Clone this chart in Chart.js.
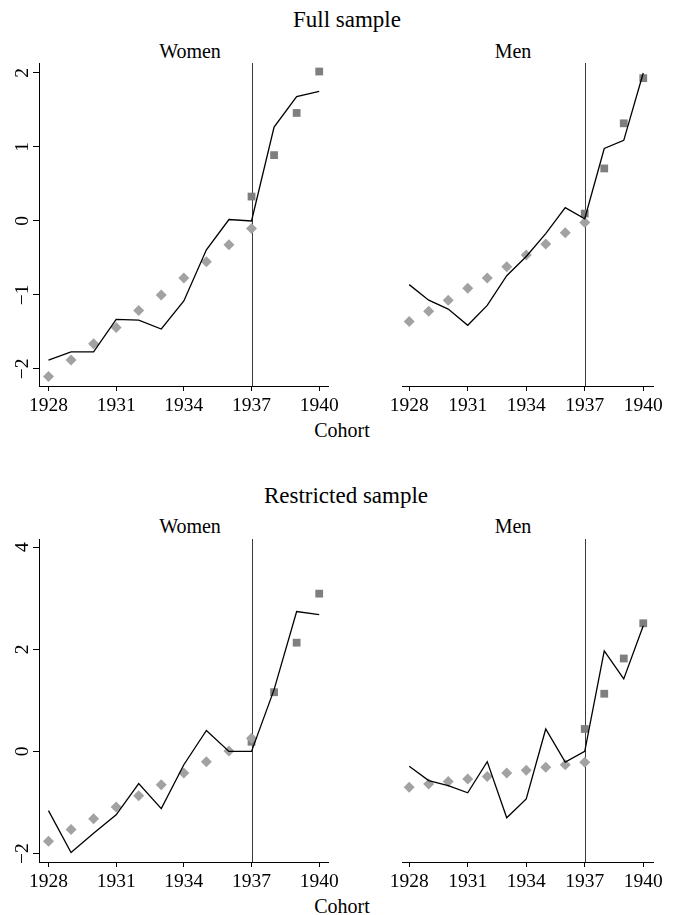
<!DOCTYPE html>
<html>
<head>
<meta charset="utf-8">
<script src="https://cdn.jsdelivr.net/npm/chart.js@4.4.0/dist/chart.umd.min.js"></script>
<style>
  html, body { margin: 0; padding: 0; background: #fff; overflow: hidden; }
  body { width: 673px; height: 915px; position: relative; font-family: "Liberation Serif", "Times New Roman", serif; color: #000; }
  canvas { position: absolute; }
  .lbl { position: absolute; width: 240px; text-align: center; line-height: 1; white-space: nowrap; }
</style>
</head>
<body>
<div class="lbl" style="left:227px; top:8px; font-size:23px;">Full sample</div>
<div class="lbl" style="left:70px; top:41px; font-size:20px;">Women</div>
<div class="lbl" style="left:393px; top:41px; font-size:20px;">Men</div>
<div class="lbl" style="left:222px; top:420px; font-size:20px;">Cohort</div>

<div class="lbl" style="left:226px; top:484px; font-size:23px;">Restricted sample</div>
<div class="lbl" style="left:70px; top:516px; font-size:20px;">Women</div>
<div class="lbl" style="left:393px; top:516px; font-size:20px;">Men</div>
<div class="lbl" style="left:222px; top:896px; font-size:20px;">Cohort</div>

<canvas id="fullWomen" width="353" height="373" style="left:0px; top:43px;"></canvas>
<canvas id="fullMen" width="330" height="373" style="left:338px; top:43px;"></canvas>
<canvas id="restWomen" width="353" height="373" style="left:0px; top:519px;"></canvas>
<canvas id="restMen" width="330" height="373" style="left:338px; top:519px;"></canvas>

<script>
// cohorts and reform cutoff
const cohorts = [1928, 1929, 1930, 1931, 1932, 1933, 1934, 1935, 1936, 1937, 1938, 1939, 1940];
const preCohorts = [1928, 1929, 1930, 1931, 1932, 1933, 1934, 1935, 1936, 1937];
const postCohorts = [1937, 1938, 1939, 1940];
const cutoff = 1937;

// tick labels
const xTicks = [1928, 1931, 1934, 1937, 1940];
const yTicksFull = [-2, -1, 0, 1, 2];
const yTicksRestricted = [-2, 0, 2, 4];

// full sample, women
const fullWomenFit = [-1.88, -1.77, -1.77, -1.33, -1.34, -1.46, -1.08, -0.39, 0.02, 0.0, 1.27, 1.68, 1.75];
const fullWomenPre = [-2.10, -1.88, -1.66, -1.44, -1.21, -1.00, -0.77, -0.55, -0.32, -0.10];
const fullWomenPost = [0.33, 0.89, 1.46, 2.02];

// full sample, men
const fullMenFit = [-0.86, -1.07, -1.19, -1.41, -1.14, -0.74, -0.48, -0.17, 0.18, 0.03, 0.98, 1.09, 2.0];
const fullMenPre = [-1.36, -1.22, -1.07, -0.91, -0.77, -0.62, -0.46, -0.31, -0.16, -0.02];
const fullMenPost = [0.10, 0.71, 1.32, 1.93];

// restricted sample, women
const restWomenFit = [-1.16, -1.98, -1.60, -1.24, -0.63, -1.12, -0.26, 0.41, 0.0, 0.0, 1.21, 2.74, 2.68];
const restWomenPre = [-1.76, -1.53, -1.32, -1.09, -0.87, -0.65, -0.42, -0.20, 0.01, 0.26];
const restWomenPost = [0.19, 1.16, 2.13, 3.09];

// restricted sample, men
const restMenFit = [-0.29, -0.57, -0.67, -0.81, -0.20, -1.30, -0.93, 0.44, -0.21, 0.0, 1.97, 1.42, 2.46];
const restMenPre = [-0.70, -0.64, -0.59, -0.54, -0.49, -0.42, -0.37, -0.31, -0.26, -0.21];
const restMenPost = [0.44, 1.13, 1.82, 2.51];

const FONT = { family: "'Liberation Serif', 'Times New Roman', serif", size: 19.5 };

function pairs(xs, ys) {
  return xs.map((x, i) => ({ x: x, y: ys[i] }));
}

// vertical line at the cutoff cohort
const cutoffLine = {
  id: "cutoffLine",
  beforeDatasetsDraw(chart) {
    const { ctx, chartArea, scales } = chart;
    const x = Math.round(scales.x.getPixelForValue(cutoff)) + 0.5;
    ctx.save();
    ctx.strokeStyle = "#3a3a3a";
    ctx.lineWidth = 1;
    ctx.beginPath();
    ctx.moveTo(x, chartArea.top);
    ctx.lineTo(x, chartArea.bottom);
    ctx.stroke();
    ctx.restore();
  }
};

function makePanel(id, fit, pre, post, yTicks, yMin, yMax, xMin, xMax, showY) {
  const ctx = document.getElementById(id).getContext("2d");
  return new Chart(ctx, {
    type: "scatter",
    data: {
      datasets: [
        {
          data: pairs(cohorts, fit),
          showLine: true,
          borderColor: "#000",
          borderWidth: 1.3,
          pointRadius: 0,
          tension: 0,
          clip: false,
          order: 0
        },
        {
          data: pairs(preCohorts, pre),
          pointStyle: "rectRot",
          pointRadius: 5.5,
          pointBackgroundColor: "#a2a2a2",
          pointBorderWidth: 0,
          clip: false,
          order: 1
        },
        {
          data: pairs(postCohorts, post),
          pointStyle: "rect",
          pointRadius: 5.5,
          pointBackgroundColor: "#7f7f7f",
          pointBorderWidth: 0,
          clip: false,
          order: 1
        }
      ]
    },
    options: {
      responsive: false,
      animation: false,
      events: [],
      layout: { padding: showY ? { top: 20, left: 0, right: 25, bottom: 0 } : { top: 20, left: 25, right: 15, bottom: 0 } },
      plugins: { legend: { display: false }, tooltip: { enabled: false } },
      scales: {
        x: {
          type: "linear",
          min: xMin,
          max: xMax,
          afterBuildTicks: (scale) => { scale.ticks = xTicks.map((v) => ({ value: v })); },
          afterFit: (scale) => { scale.height = 30; },
          grid: { display: true, drawOnChartArea: false, drawTicks: true, tickLength: 5, tickColor: "#000", lineWidth: 1 },
          border: { display: true, color: "#000", width: 1 },
          ticks: { color: "#000", font: FONT, padding: 3, maxRotation: 0, callback: (v) => String(v) }
        },
        y: {
          type: "linear",
          display: showY,
          min: yMin,
          max: yMax,
          afterBuildTicks: (scale) => { scale.ticks = yTicks.map((v) => ({ value: v })); },
          afterFit: (scale) => { scale.width = 39; },
          grid: { display: true, drawOnChartArea: false, drawTicks: true, tickLength: 6, tickColor: "#000", lineWidth: 1 },
          border: { display: true, color: "#000", width: 1 },
          ticks: {
            color: "#000",
            font: FONT,
            padding: 0,
            minRotation: 90,
            maxRotation: 90,
            crossAlign: "center",
            callback: (v) => (v < 0 ? "\u2212" + Math.abs(v) : String(v))
          }
        }
      }
    },
    plugins: [cutoffLine]
  });
}

makePanel("fullWomen", fullWomenFit, fullWomenPre, fullWomenPost, yTicksFull, -2.23, 2.135, 1927.58, 1940.39, true);
makePanel("fullMen", fullMenFit, fullMenPre, fullMenPost, yTicksFull, -2.23, 2.135, 1927.63, 1940.5, false);
makePanel("restWomen", restWomenFit, restWomenPre, restWomenPost, yTicksRestricted, -2.165, 4.16, 1927.58, 1940.39, true);
makePanel("restMen", restMenFit, restMenPre, restMenPost, yTicksRestricted, -2.165, 4.16, 1927.63, 1940.5, false);
</script>
</body>
</html>
